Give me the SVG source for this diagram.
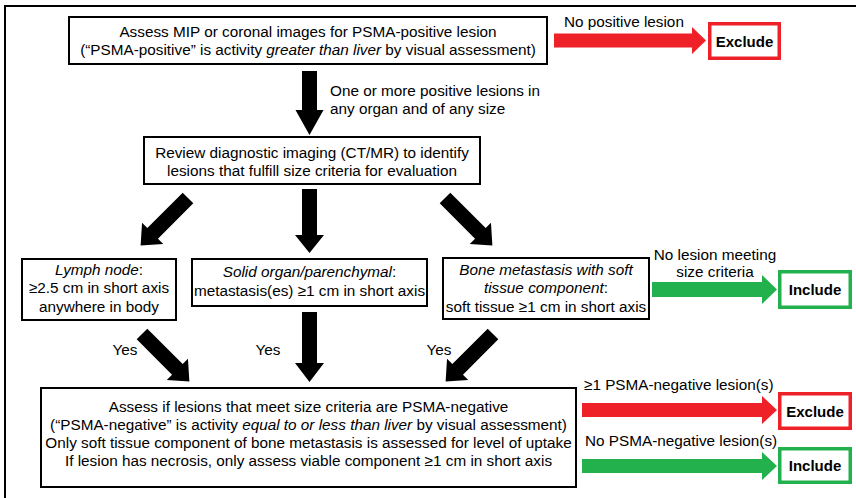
<svg xmlns="http://www.w3.org/2000/svg" width="856" height="498" viewBox="0 0 856 498">
<style>
text{font-family:"Liberation Sans",Arial,sans-serif;font-size:15.3px;fill:#000}
.c{text-anchor:middle}
.b{font-weight:bold;font-size:15px}
.i{font-style:italic}
.box{fill:#fff;stroke:#000;stroke-width:2}
.red{fill:#fff;stroke:#EE2128;stroke-width:3.5}
.grn{fill:#fff;stroke:#22B14C;stroke-width:3.5}
.ar{fill:#000}
.ra{fill:#EE2128}
.ga{fill:#22B14C}
</style>
<rect width="856" height="498" fill="#fff"/>
<path d="M5,498 V6 H856" fill="none" stroke="#000" stroke-width="2"/>

<g id="connectors">
  <polygon class="ar" points="302,71 317,71 317,110 323.5,110 309.5,135 295.5,110 302,110"/>
  <polygon class="ar" points="302,189 317,189 317,235 324,235 309.5,253 295,235 302,235"/>
  <polygon class="ar" points="302,312 317,312 317,363 324,363 309.5,382 295,363 302,363"/>
  <polygon class="ar" points="0,-7.5 50,-7.5 50,-15 67,0 50,15 50,7.5 0,7.5" transform="translate(188,198) rotate(135)"/>
  <polygon class="ar" points="0,-7.5 50,-7.5 50,-15 67,0 50,15 50,7.5 0,7.5" transform="translate(445,198) rotate(45)"/>
  <polygon class="ar" points="0,-7.5 50,-7.5 50,-15 67,0 50,15 50,7.5 0,7.5" transform="translate(142,334) rotate(45)"/>
  <polygon class="ar" points="0,-7.5 50,-7.5 50,-15 67,0 50,15 50,7.5 0,7.5" transform="translate(493,334) rotate(135)"/>
  <polygon class="ra" points="554,33.5 692,33.5 692,27 706,40.5 692,54 692,47.5 554,47.5"/>
  <polygon class="ga" points="652,282 762,282 762,275 777,289.5 762,304 762,297 652,297"/>
  <polygon class="ra" points="582,403 762,403 762,396 777,410 762,424 762,417 582,417"/>
  <polygon class="ga" points="582,459 762,459 762,452 777,466 762,480 762,473 582,473"/>
  <text x="564" y="27">No positive lesion</text>
  <text x="330" y="96">One or more positive lesions in</text>
  <text x="330" y="114">any organ and of any size</text>
  <text class="c" x="715" y="260">No lesion meeting</text>
  <text class="c" x="715" y="277">size criteria</text>
  <text class="c" x="125" y="355">Yes</text>
  <text class="c" x="268" y="355">Yes</text>
  <text class="c" x="439" y="355">Yes</text>
  <text x="584" y="390">≥1 PSMA-negative lesion(s)</text>
  <text x="585" y="446">No PSMA-negative lesion(s)</text>
</g>

<g id="n-assess-mip">
  <rect class="box" x="69" y="17" width="478" height="47"/>
  <text class="c" x="308" y="37">Assess MIP or coronal images for PSMA-positive lesion</text>
  <text class="c" x="308" y="55">(“PSMA-positive” is activity <tspan class="i">greater than liver</tspan> by visual assessment)</text>
</g>

<g id="n-exclude-1">
  <rect class="red" x="709.75" y="23.75" width="69.5" height="34.5"/>
  <text class="c b" x="744.5" y="46.5">Exclude</text>
</g>

<g id="n-review">
  <rect class="box" x="144" y="137" width="336" height="47"/>
  <text class="c" x="312" y="158">Review diagnostic imaging (CT/MR) to identify</text>
  <text class="c" x="312" y="176">lesions that fulfill size criteria for evaluation</text>
</g>

<g id="n-lymph">
  <rect class="box" x="22" y="259" width="154" height="61"/>
  <text class="c" x="99" y="275"><tspan class="i">Lymph node</tspan>:</text>
  <text class="c" x="99" y="293">≥2.5 cm in short axis</text>
  <text class="c" x="99" y="312">anywhere in body</text>
</g>

<g id="n-solid">
  <rect class="box" x="192" y="259" width="235" height="47"/>
  <text class="c" x="309.5" y="277"><tspan class="i">Solid organ/parenchymal</tspan>:</text>
  <text class="c" x="309.5" y="296">metastasis(es) ≥1 cm in short axis</text>
</g>

<g id="n-bone">
  <rect class="box" x="443" y="258" width="206" height="61"/>
  <text class="c i" x="546" y="275">Bone metastasis with soft</text>
  <text class="c" x="546" y="293"><tspan class="i">tissue component</tspan>:</text>
  <text class="c" x="546" y="312">soft tissue ≥1 cm in short axis</text>
</g>

<g id="n-include-1">
  <rect class="grn" x="779.75" y="271.75" width="70.5" height="35.5"/>
  <text class="c b" x="815" y="295">Include</text>
</g>

<g id="n-assess-negative">
  <rect class="box" x="41" y="388" width="535" height="99"/>
  <text class="c" x="308.5" y="412">Assess if lesions that meet size criteria are PSMA-negative</text>
  <text class="c" x="308.5" y="430">(“PSMA-negative” is activity <tspan class="i">equal to or less than liver</tspan> by visual assessment)</text>
  <text class="c" x="308.5" y="448">Only soft tissue component of bone metastasis is assessed for level of uptake</text>
  <text class="c" x="308.5" y="466">If lesion has necrosis, only assess viable component ≥1 cm in short axis</text>
</g>

<g id="n-exclude-2">
  <rect class="red" x="779.75" y="393.75" width="70.5" height="34.5"/>
  <text class="c b" x="815" y="416.5">Exclude</text>
</g>

<g id="n-include-2">
  <rect class="grn" x="779.75" y="448.75" width="70.5" height="33.5"/>
  <text class="c b" x="815" y="471">Include</text>
</g>
</svg>
